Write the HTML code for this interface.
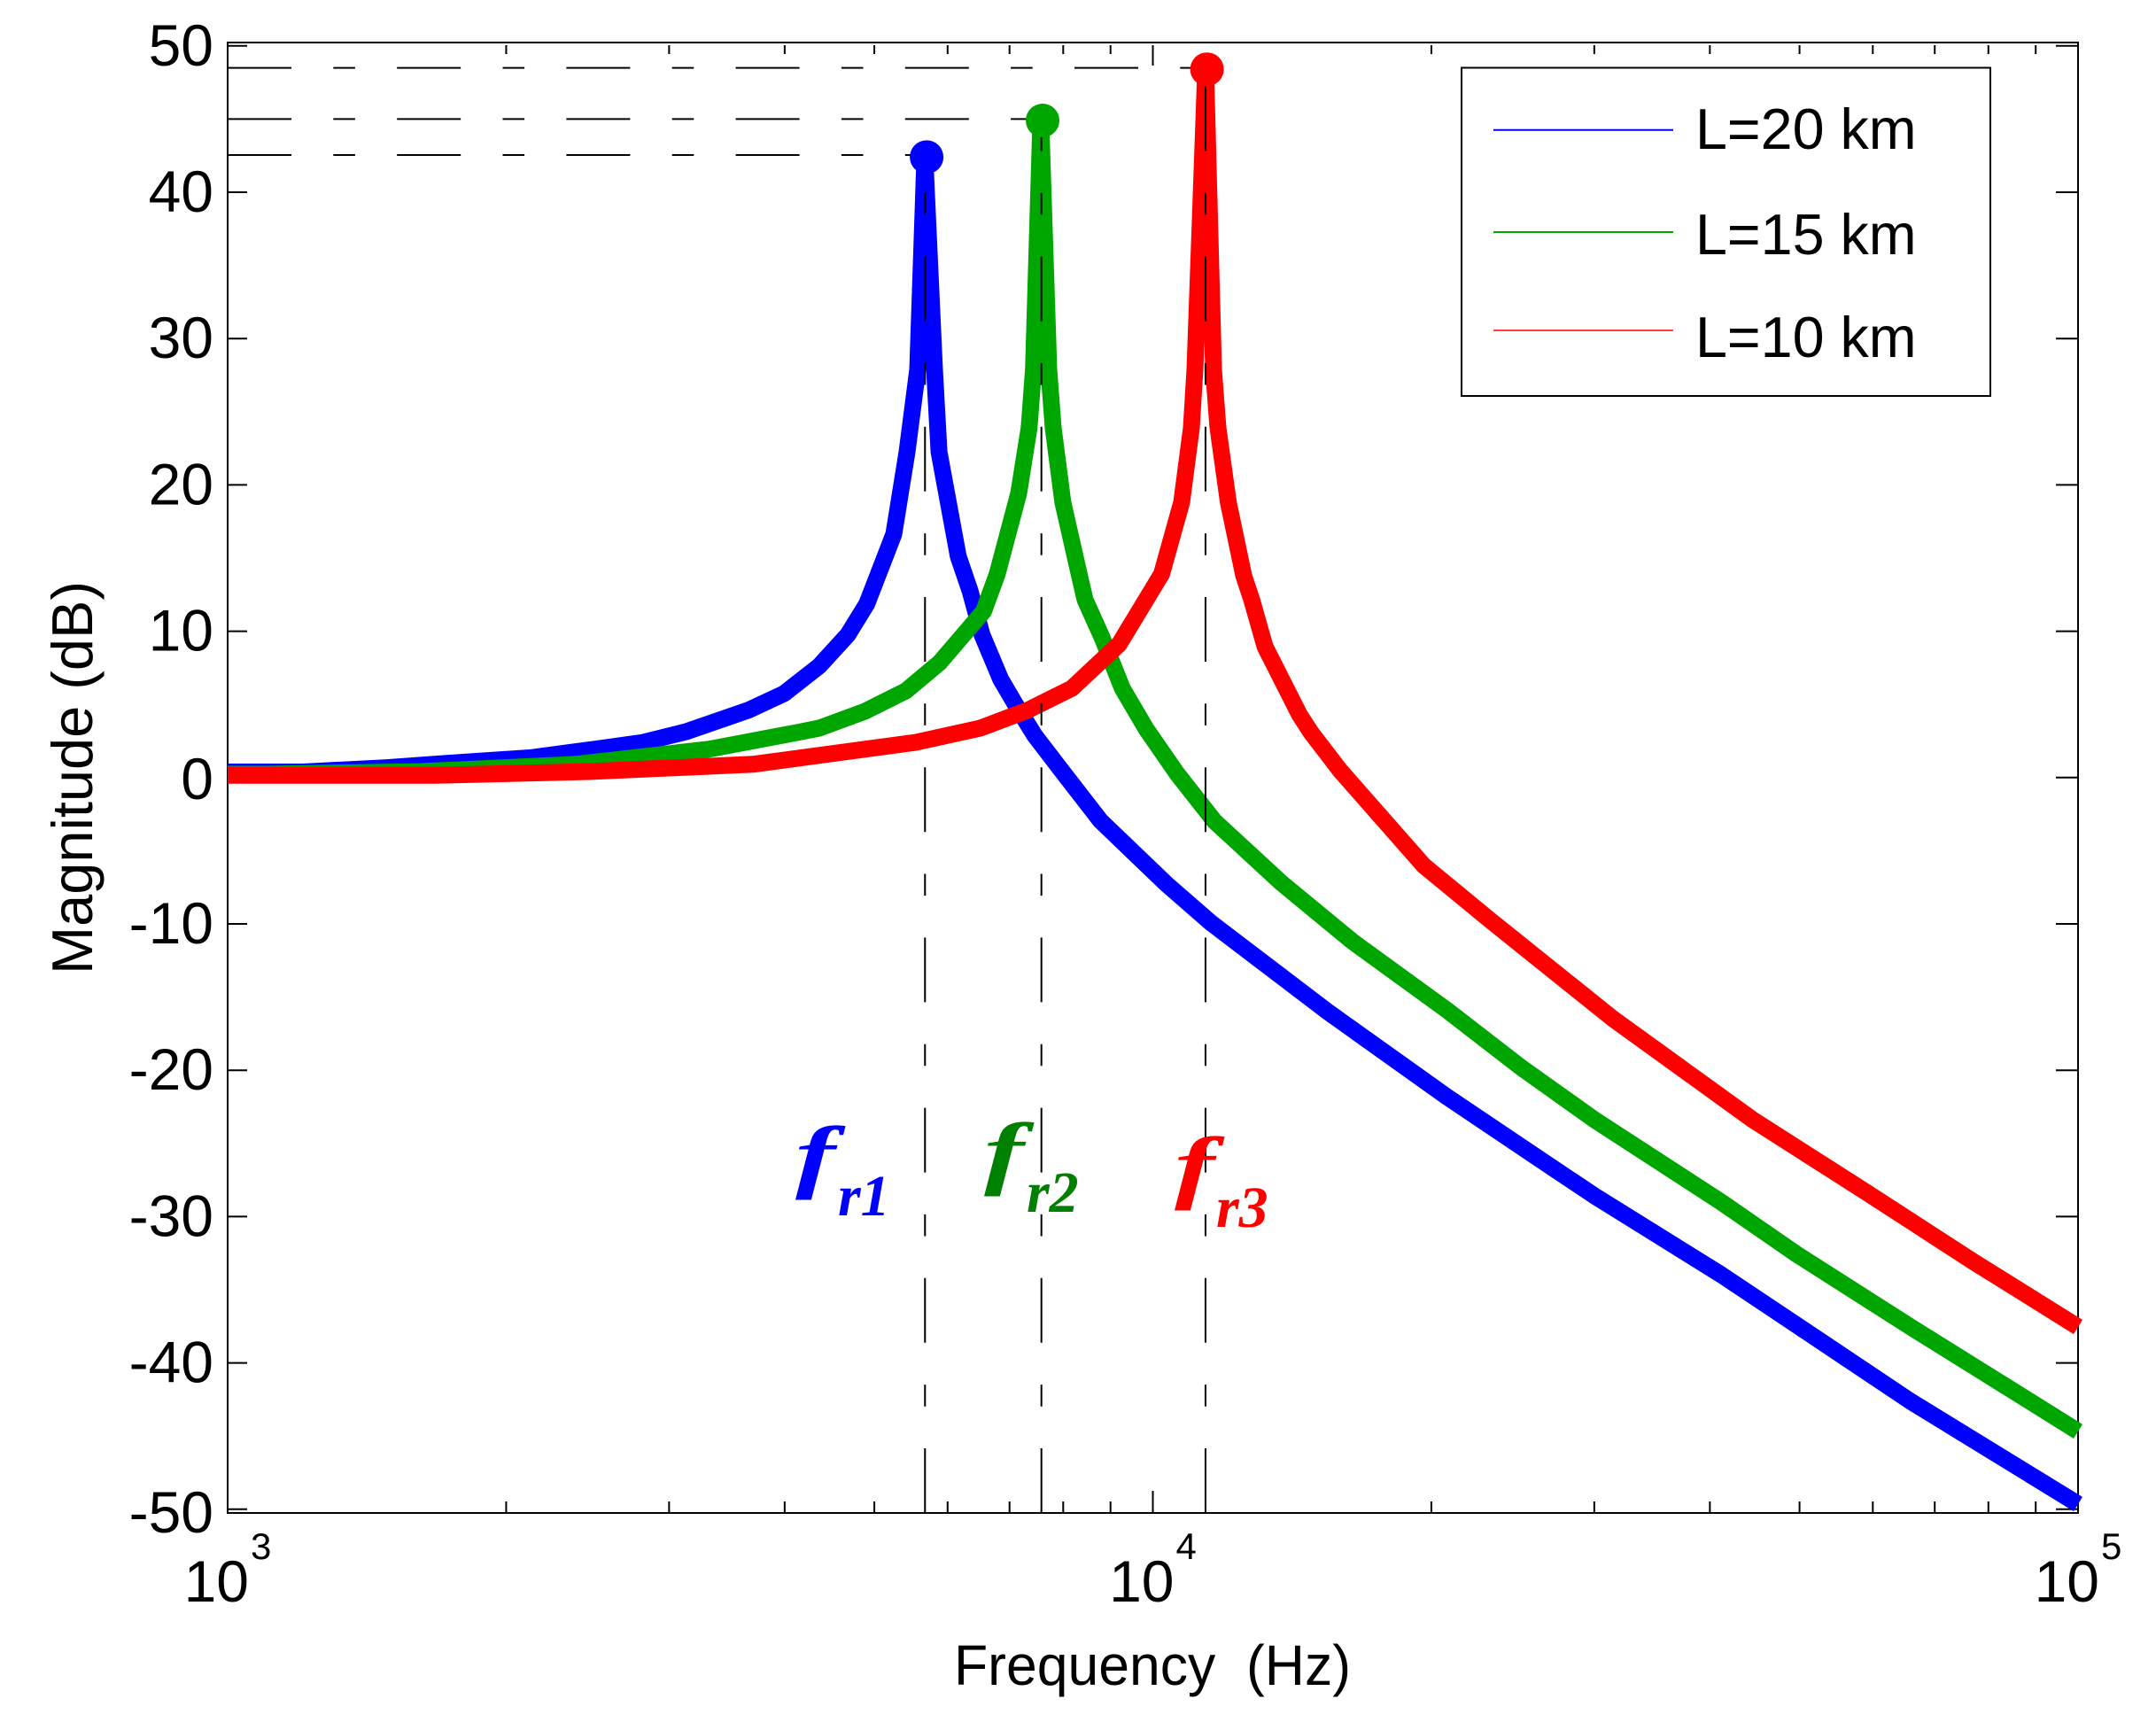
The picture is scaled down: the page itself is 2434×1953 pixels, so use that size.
<!DOCTYPE html>
<html lang="en">
<head>
<meta charset="utf-8">
<title>Magnitude vs Frequency</title>
<style>
  html, body { margin: 0; padding: 0; background: #fff; }
  svg { display: block; }
  text { font-family: "Liberation Sans", Arial, sans-serif; fill: #000; }
  .fr { font-family: "Liberation Serif", "Times New Roman", serif; font-weight: bold; font-style: italic; }
</style>
</head>
<body>
<svg id="chart" xmlns="http://www.w3.org/2000/svg" width="2434" height="1953" viewBox="0 0 2434 1953">
  <rect x="0" y="0" width="2434" height="1953" fill="#ffffff"/>
  <g id="ticks"></g>
  <g id="series"></g>
  <g id="refs"></g>
  <g id="markers"></g>
  <g id="labels"></g>

  <text x="1077" y="1902" font-size="64" textLength="448" lengthAdjust="spacingAndGlyphs" style="white-space:pre">Frequency  (Hz)</text>
  <text transform="translate(104,1100) rotate(-90)" font-size="65" textLength="444" lengthAdjust="spacingAndGlyphs">Magnitude (dB)</text>

  <g>
    <rect x="1650" y="76.5" width="597" height="370.5" fill="#ffffff" stroke="#000" stroke-width="2"/>
    <line x1="1686" x2="1889" y1="146.7" y2="146.7" stroke="#0000ff" stroke-width="2"/>
    <text x="1914" y="168" font-size="64.6">L=20 km</text>
    <line x1="1686" x2="1889" y1="262" y2="262" stroke="#00a600" stroke-width="2"/>
    <text x="1914" y="287" font-size="64.6">L=15 km</text>
    <line x1="1686" x2="1889" y1="373" y2="373" stroke="#ff0000" stroke-width="1.5"/>
    <text x="1914" y="403" font-size="64.6">L=10 km</text>
  </g>

  <g>
    <text class="fr" transform="translate(898,1335) scale(1.6,1.08)" font-size="85" style="fill:#0000ff">f</text>
    <text class="fr" x="946" y="1372" font-size="66" style="fill:#0000ff">r1</text>
  </g>
  <g>
    <text class="fr" transform="translate(1111,1331) scale(1.6,1.08)" font-size="85" style="fill:#008000">f</text>
    <text class="fr" x="1159" y="1368" font-size="66" style="fill:#008000">r2</text>
  </g>
  <g>
    <text class="fr" transform="translate(1326,1347) scale(1.6,1.08)" font-size="85" style="fill:#ff0000">f</text>
    <text class="fr" x="1373" y="1385" font-size="66" style="fill:#ff0000">r3</text>
  </g>
</svg>

<script>
// ---- Data ----
const freqL20 = [1000,1206,1481,1805,2130,2513,2806,3133,3656,3993,4360,4679,4907,5248,5424,5570,5670,5808,5873,6161,6344,6537,6847,7083,7450,7925,8780,10347,11553,15488,20770,27280,30010,41140,49660,65930,100000];
const magL20  = [0.38,0.38,0.67,1.06,1.36,1.97,2.39,3.14,4.61,5.74,7.63,9.75,11.87,16.63,22.26,27.89,42.4,27.89,22.26,15.12,12.76,9.75,6.72,5.13,2.89,0.67,-2.96,-7.28,-9.92,-16.05,-21.8,-26.83,-28.58,-33.97,-37.42,-42.63,-49.65];

const freqL15 = [1000,1100,1617,2378,3311,4127,4360,4885,5407,5882,6564,6789,7161,7349,7430,7567,7718,7803,7993,8331,8449,8816,9268,9836,10615,11657,13786,16443,20770,24990,30010,41140,49660,65930,100000];
const magL15  = [0.23,0.23,0.41,0.91,1.94,3.08,3.38,4.53,5.92,7.86,11.37,13.91,19.42,23.9,27.89,44.9,27.89,23.9,18.81,13.79,12.15,9.55,6.1,3.32,0.29,-2.98,-7.22,-11.21,-15.87,-19.8,-23.38,-29.01,-32.58,-37.54,-44.68];

const freqL10 = [1000,1671,2458,3696,5546,6509,7317,8175,9198,10221,10742,11006,11105,11403,11630,11760,12065,12538,12788,13220,14405,14822,15942,19615,23041,31427,44490,59040,77210,100000];
const magL10  = [0.15,0.15,0.41,0.91,2.41,3.38,4.59,6.10,9.13,13.91,18.81,23.9,27.89,48.41,27.89,23.9,18.81,13.79,12.15,8.95,4.29,3.08,0.47,-6.0,-9.64,-16.48,-23.38,-28.34,-33.12,-37.54];

const seriesNames = ["line-l20km","line-l15km","line-l10km"];
const seriesColors = ["#0000ff","#00a600","#ff0000"];

const peakFreqs = [5695,7600,11443];
const peakMags = [42.4,44.9,48.4];
const resonanceFreqs = [5672,7578,11400];
const levelMags = [42.54,45.0,48.5];
const levelEndFreqs = [5695,7600,11443];

const yTickValues = [50,40,30,20,10,0,-10,-20,-30,-40,-50];
const yTickLabels = ["50","40","30","20","10","0","-10","-20","-30","-40","-50"];
const xDecades = [3,4,5];
const xDecadeLabels = ["10","10","10"];
const xExponentLabels = ["3","4","5"];
const minorMultipliers = [2,3,4,5,6,7,8,9];

// ---- Axis functions ----
const LEFT = 257, RIGHT = 2346, TOP = 48, BOTTOM = 1708;
function xOf(f) { return LEFT + (Math.log10(f) - 3) * (RIGHT - LEFT) / 2; }
function yOf(db) { return 217 + (40 - db) * 16.52; }

const NS = "http://www.w3.org/2000/svg";
function mk(tag, parent, attrs) {
  const el = document.createElementNS(NS, tag);
  for (const k in attrs) el.setAttribute(k, attrs[k]);
  parent.appendChild(el);
  return el;
}

const gTicks = document.getElementById("ticks");
const gSeries = document.getElementById("series");
const gRefs = document.getElementById("refs");
const gMarkers = document.getElementById("markers");
const gLabels = document.getElementById("labels");

// ---- Frame ----
const frame = mk("rect", gTicks, {x: LEFT, y: TOP, width: RIGHT - LEFT, height: BOTTOM - TOP, fill: "none", stroke: "#000", "stroke-width": 2});



// ---- Y ticks ----
yTickValues.forEach(function (v, i) {
  const y = yOf(v);
  const l = mk("line", gTicks, {x1: LEFT, x2: LEFT + 22, y1: y, y2: y, stroke: "#000", "stroke-width": 2});
  
  
  const r = mk("line", gTicks, {x1: RIGHT - 25, x2: RIGHT, y1: y, y2: y, stroke: "#000", "stroke-width": 2});
  
  
  const nudge = v === -50 ? 4 : (v === 0 ? 2 : 0);
  const t = mk("text", gLabels, {x: 241, y: y + 22 + nudge, "font-size": 66, "text-anchor": "end"});
  t.textContent = yTickLabels[i];
  
  
});

// ---- X ticks ----
xDecades.forEach(function (d, i) {
  const f = Math.pow(10, d);
  const x = xOf(f);
  if (i > 0 && i < xDecades.length - 1) {
    const b = mk("line", gTicks, {x1: x, x2: x, y1: BOTTOM - 25, y2: BOTTOM, stroke: "#000", "stroke-width": 2});
    
    
    const a = mk("line", gTicks, {x1: x, x2: x, y1: TOP + 3, y2: TOP + 26, stroke: "#000", "stroke-width": 2});
    
    
  }
  const t = mk("text", gLabels, {x: x + 24, y: 1808, "font-size": 66, "text-anchor": "end"});
  t.textContent = xDecadeLabels[i];
  
  
  const e = mk("text", gLabels, {x: x + 26, y: 1760, "font-size": 42});
  e.textContent = xExponentLabels[i];
  
  
  if (i < xDecades.length - 1) {
    minorMultipliers.forEach(function (m) {
      const mx = xOf(m * f);
      const b2 = mk("line", gTicks, {x1: mx, x2: mx, y1: BOTTOM - 13, y2: BOTTOM, stroke: "#000", "stroke-width": 2});
      
      
      const a2 = mk("line", gTicks, {x1: mx, x2: mx, y1: TOP + 3, y2: TOP + 13, stroke: "#000", "stroke-width": 2});
      
      
    });
  }
});

// ---- Series ----
const allFreqs = [freqL20, freqL15, freqL10];
const allMags = [magL20, magL15, magL10];
allFreqs.forEach(function (fs, s) {
  const pts = fs.map(function (f, i) { return xOf(f).toFixed(1) + "," + yOf(allMags[s][i]).toFixed(1); }).join(" ");
  const p = mk("polyline", gSeries, {points: pts, fill: "none", stroke: seriesColors[s], "stroke-width": 19, "stroke-linejoin": "round", "stroke-linecap": "butt"});
  
  
});

// ---- Dashed reference lines ----
const DASH = "73 47.3 24.6 47.3";
resonanceFreqs.forEach(function (f, i) {
  const x = xOf(f);
  const v = mk("line", gRefs, {x1: x, x2: x, y1: BOTTOM, y2: yOf(peakMags[i]), stroke: "#000", "stroke-width": 2, "stroke-dasharray": DASH});
  
  
});
levelMags.forEach(function (db, i) {
  const y = yOf(db);
  const h = mk("line", gRefs, {x1: LEFT, x2: xOf(levelEndFreqs[i]), y1: y, y2: y, stroke: "#000", "stroke-width": 2, "stroke-dasharray": "72 47.3 24.6 47.3"});
  
  
});

// ---- Peak markers ----
peakFreqs.forEach(function (f, i) {
  const c = mk("circle", gMarkers, {cx: xOf(f), cy: yOf(peakMags[i]), r: 19, fill: seriesColors[i]});
  
  
});
</script>
</body>
</html>
